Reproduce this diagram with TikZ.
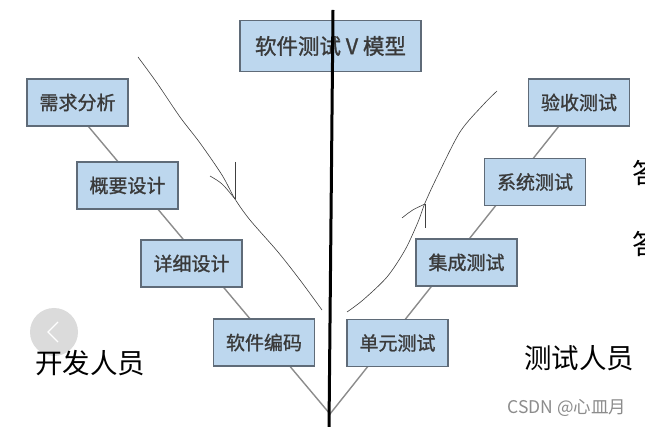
\documentclass[tikz,border=0pt]{standalone}
\usepackage{fontspec}
\newfontfamily\cjk{Noto Sans CJK SC}
\newfontfamily\cjkbold[FakeBold=1.2]{Noto Sans CJK SC}
\usetikzlibrary{calc}
\definecolor{boxfill}{HTML}{BDD7EE}
\definecolor{boxdraw}{HTML}{5F6B78}
\definecolor{boxtext}{HTML}{3A3A3A}
\definecolor{vline}{HTML}{8C8C8C}
\begin{document}
\begin{tikzpicture}[x=1pt,y=-1pt,
  stagebox/.style={draw=boxdraw,fill=boxfill,line width=1.3pt,minimum width=101pt,minimum height=47pt,inner sep=0pt,font=\cjkbold\fontsize{19}{21}\selectfont,text=boxtext},
  titlebox/.style={stagebox,minimum width=181pt,minimum height=51pt,font=\cjkbold\fontsize{21.5}{23}\selectfont},
  vstyle/.style={draw=vline,line width=1.4pt},
  hand/.style={draw=black!75,line width=0.6pt},
  rolelabel/.style={font=\cjk\fontsize{27.5}{29}\selectfont,text=black,inner sep=0pt}]
\useasboundingbox (0,0) rectangle (645,427);
\fill[white] (0,0) rectangle (645,427);
% V line coordinates
\coordinate (vtopL) at (88,126);
\coordinate (vbot) at (330,414);
\coordinate (vtopR) at (559,126);
\draw[vstyle] (vtopL) -- (vbot) -- (vtopR);
% boxes
\node[titlebox] (title) at (330.5,46) {软件测试 V 模型};
\node[stagebox] (req) at (77.5,102.5) {需求分析};
\node[stagebox] (outline) at (127.5,185.5) {概要设计};
\node[stagebox] (detail) at (191.5,263.5) {详细设计};
\node[stagebox] (code) at (264,342.5) {软件编码};
\node[stagebox] (unit) at (397.5,343) {单元测试};
\node[stagebox] (integ) at (466.5,262.5) {集成测试};
\node[stagebox] (sys) at (535,182) {系统测试};
\node[stagebox] (accept) at (579,102.5) {验收测试};
% black divider
\coordinate (divtop) at (333,10);
\coordinate (divbot) at (329,427);
\draw[line width=3pt,black] (divtop) -- (divbot);
% hand-drawn arrows
\draw[hand] plot[smooth] coordinates {(138,57) (157,83) (180,117) (200,143) (222,175) (235,199) (250,220) (278,252) (300,280) (322,310)};
\coordinate (ltip) at (235,199);
\coordinate (lbarb1) at (235,162);
\coordinate (lbarb2) at (210,176);
\draw[hand] (lbarb1) -- (ltip);
\draw[hand] (lbarb2) .. controls (222,183) .. (ltip);
\draw[hand] plot[smooth] coordinates {(347,312) (363,300) (387,277) (405,250) (418,222) (425,203) (437,177) (460,132) (483,105) (497,91)};
\coordinate (rtip) at (425,204);
\coordinate (rbarb1) at (425,228);
\coordinate (rbarb2) at (402,218);
\draw[hand] (rbarb1) -- (rtip);
\draw[hand] (rbarb2) .. controls (412,210) .. (rtip);
% gray nav circle (behind the label)
\fill[gray!28] (54,332) circle (24);
\coordinate (chevA) at (58,322);
\coordinate (chevB) at (48,332);
\coordinate (chevC) at (58,342);
\draw[white,line width=1.2pt] (chevA) -- (chevB) -- (chevC);
% role labels
\node[rolelabel] (dev) at (90,363) {开发人员};
\node[rolelabel] (tester) at (579,358) {测试人员};
% cut-off characters at right edge
\begin{scope}
\clip (600,0) rectangle (645,427);
\node[rolelabel,anchor=west] (cut1) at (632,173) {答};
\node[rolelabel,anchor=west] (cut2) at (632,244) {答};
\end{scope}
% watermark
\node[font=\cjk\fontsize{17.5}{19}\selectfont,text=black!45,inner sep=0pt] (wm) at (567,408) {CSDN @心皿月};
\end{tikzpicture}
\end{document}
